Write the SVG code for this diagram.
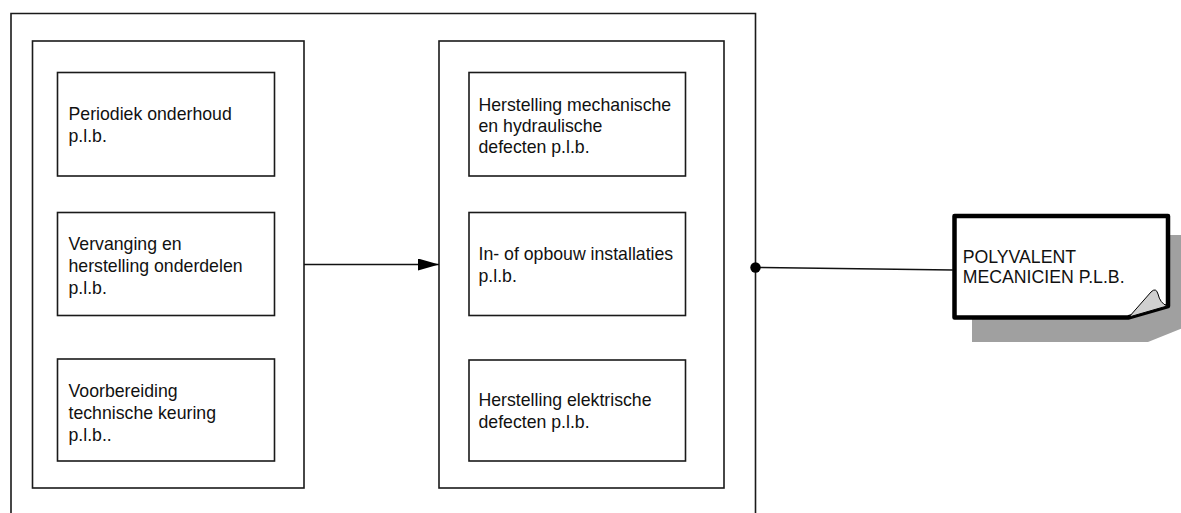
<svg xmlns="http://www.w3.org/2000/svg" width="1181" height="513" viewBox="0 0 1181 513">
<style>
.box{fill:#fff;stroke:#1a1a1a;stroke-width:1.6}
.frame{fill:none;stroke:#1a1a1a;stroke-width:1.6}
.t{font-family:"Liberation Sans",Arial,sans-serif;font-size:17.7px;fill:#111}
.conn{stroke:#111;stroke-width:1.5;fill:none}
</style>
<defs>
<marker id="arr" markerWidth="21" markerHeight="12" refX="21" refY="6" orient="auto" markerUnits="userSpaceOnUse">
<path d="M0,0 L21,6 L0,12 Z" fill="#000"/>
</marker>
</defs>
<g id="outer">
<path class="frame" d="M11,520 L11,13.5 L755.5,13.5 L755.5,520"/>
</g>
<g id="leftContainer">
<rect class="box" x="32.5" y="41" width="271.5" height="447"/>
</g>
<g id="rightContainer">
<rect class="box" x="439" y="41" width="285" height="447"/>
</g>
<g id="n1">
<rect class="box" x="57.5" y="72.5" width="217" height="103.5"/>
<text class="t" x="68.5" y="120">Periodiek onderhoud</text>
<text class="t" x="68.5" y="141.7">p.l.b.</text>
</g>
<g id="n2">
<rect class="box" x="57.5" y="212.5" width="217" height="103"/>
<text class="t" x="68.5" y="250">Vervanging en</text>
<text class="t" x="68.5" y="272.3">herstelling onderdelen</text>
<text class="t" x="68.5" y="294.3">p.l.b.</text>
</g>
<g id="n3">
<rect class="box" x="57.5" y="359" width="217" height="102"/>
<text class="t" x="68.5" y="397">Voorbereiding</text>
<text class="t" x="68.5" y="419">technische keuring</text>
<text class="t" x="68.5" y="441">p.l.b..</text>
</g>
<g id="n4">
<rect class="box" x="469" y="72.5" width="216.5" height="103.5"/>
<text class="t" x="478.5" y="110.7">Herstelling mechanische</text>
<text class="t" x="478.5" y="132">en hydraulische</text>
<text class="t" x="478.5" y="153.3">defecten p.l.b.</text>
</g>
<g id="n5">
<rect class="box" x="469" y="212.5" width="216.5" height="103"/>
<text class="t" x="478.5" y="260">In- of opbouw installaties</text>
<text class="t" x="478.5" y="282">p.l.b.</text>
</g>
<g id="n6">
<rect class="box" x="469" y="360" width="216.5" height="101"/>
<text class="t" x="478.5" y="406">Herstelling elektrische</text>
<text class="t" x="478.5" y="428">defecten p.l.b.</text>
</g>
<g id="note">
<polygon points="972,235 1190,235 1190,325 1148,342 972,342" fill="#a0a0a0"/>
<path d="M954.5,216 L1168,216 L1168,306 L1128,317.5 L954.5,317.5 Z" fill="#fff" stroke="#000" stroke-width="4.5" stroke-linejoin="round"/>
<path d="M1129,317 L1151,292 Q1156,287 1158,294 Q1160,303 1167,306 Z" fill="#d0d0d0" stroke="#000" stroke-width="1"/>
<text class="t" x="962.7" y="263.3">POLYVALENT</text>
<text class="t" x="962.7" y="283.3">MECANICIEN P.L.B.</text>
</g>
<g id="connectors">
<line class="conn" x1="304" y1="264.5" x2="439" y2="264.5" marker-end="url(#arr)"/>
<line class="conn" x1="755.5" y1="267.5" x2="953" y2="270"/>
<circle cx="755.5" cy="267.5" r="5.2" fill="#000"/>
</g>
</svg>
